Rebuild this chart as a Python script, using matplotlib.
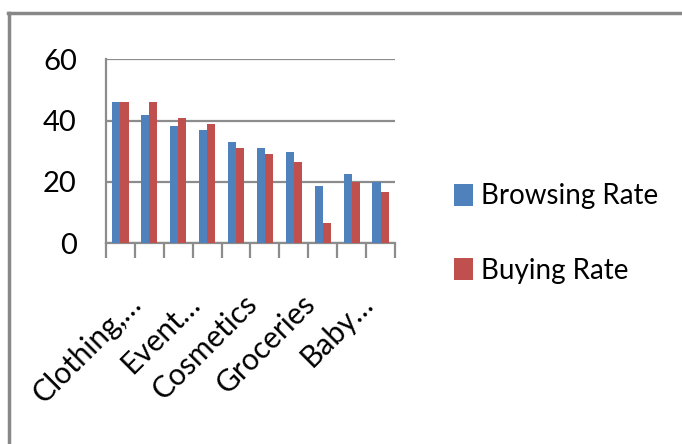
import matplotlib
matplotlib.use('Agg')

import matplotlib.pyplot as plt
import numpy as np
from matplotlib.lines import Line2D
from matplotlib.transforms import ScaledTranslation

# ---------------------------
# DATA
# ---------------------------
categories = ["Clothing,…", "", "Event…", "", "Cosmetics", "", "Groceries", "", "Baby…", ""]
browsing = [46, 42, 38.2, 37, 33, 31.2, 29.8, 18.8, 22.6, 20]
buying = [46, 46, 40.8, 38.8, 31.2, 29.2, 26.5, 6.5, 20, 16.8]

BLUE = "#4F81BD"
RED = "#C0504D"
GRID = "#8C8C8C"

plt.rcParams['font.family'] = ['Lato', 'DejaVu Sans']

# ---------------------------
# FIGURE
# ---------------------------
fig = plt.figure(figsize=(6.82, 4.44), dpi=100)
ax = fig.add_axes([0.1554, 0.452, 0.4238, 0.4144])

x = np.arange(len(browsing))
w = 0.28
ax.bar(x - w/2, browsing, w, color=BLUE, label="Browsing Rate", zorder=3)
ax.bar(x + w/2, buying, w, color=RED, label="Buying Rate", zorder=3)

ax.set_xlim(-0.5, len(x) - 0.5)
ax.set_ylim(0, 60)
ax.set_yticks([0, 20, 40, 60])
ax.yaxis.grid(True, color=GRID, linewidth=1.6, zorder=0)
ax.tick_params(axis='y', length=0, pad=21, labelsize=21)

for s in ["top", "right"]:
    ax.spines[s].set_visible(False)
ax.spines["left"].set_color(GRID)
ax.spines["left"].set_linewidth(1.6)
ax.spines["bottom"].set_color(GRID)
ax.spines["bottom"].set_linewidth(1.6)

# category boundary ticks
ax.set_xticks(np.arange(len(x) + 1) - 0.5, minor=True)
ax.tick_params(axis='x', which='minor', length=11, width=1.6, color=GRID, direction='out')
ax.set_xticks(x)
ax.set_xticklabels(categories, rotation=45, ha='right', va='baseline',
                   rotation_mode='anchor', fontsize=21.5)
ax.tick_params(axis='x', which='major', length=0, pad=0)
offset = ScaledTranslation(0.23, -0.62, fig.dpi_scale_trans)
for lab in ax.get_xticklabels():
    lab.set_transform(lab.get_transform() + offset)

ax.legend(loc='center left', bbox_to_anchor=(0.646, 0.474), bbox_transform=fig.transFigure,
          frameon=False, fontsize=20, handlelength=0.65, handleheight=0.85,
          handletextpad=0.3, labelspacing=1.75, borderpad=0)

# outer chart border (top and left visible)
fig.add_artist(Line2D([0.012, 1.0], [0.971, 0.971], color="#888888", linewidth=2.5,
                      transform=fig.transFigure))
fig.add_artist(Line2D([0.013, 0.013], [0.0, 0.971], color="#888888", linewidth=2.5,
                      transform=fig.transFigure))

fig.savefig("out.png", dpi=100)
